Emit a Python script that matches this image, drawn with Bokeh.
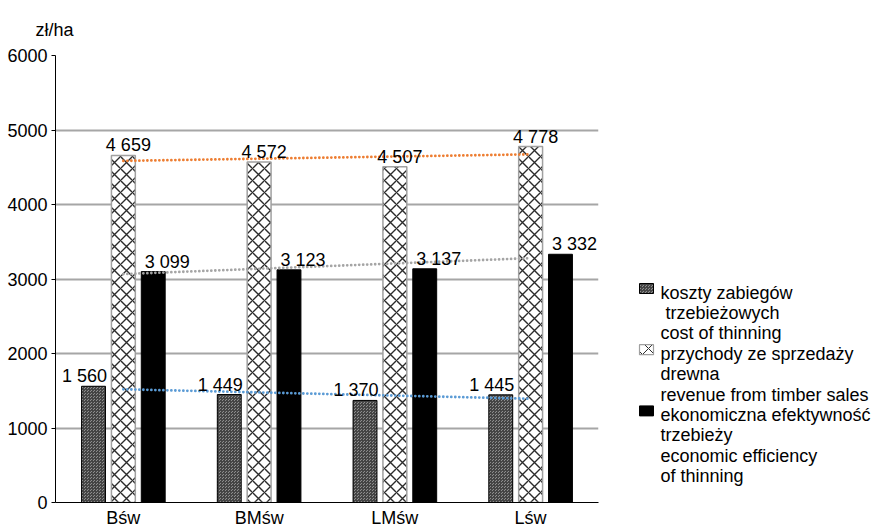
import numpy as np
from bokeh.plotting import figure
from bokeh.models import ColumnDataSource, FactorRange, Range1d, FixedTicker
from bokeh.transform import dodge
from bokeh.layouts import row
from bokeh.core.properties import value
from bokeh.embed import file_html
from bokeh.resources import INLINE

# --- data -------------------------------------------------------------
sites = ["Bśw", "BMśw", "LMśw", "Lśw"]
cost = [1560, 1449, 1370, 1445]           # koszty zabiegów trzebieżowych
revenue = [4659, 4572, 4507, 4778]        # przychody ze sprzedaży drewna
efficiency = [3099, 3123, 3137, 3332]     # ekonomiczna efektywność trzebieży
y_ticks = [0, 1000, 2000, 3000, 4000, 5000, 6000]
unit_label = "zł/ha"
legend_labels = [
    ["koszty zabiegów", "\u00a0trzebieżowych", "cost of thinning"],
    ["przychody ze sprzedaży", "drewna", "revenue from timber sales"],
    ["ekonomiczna efektywność", "trzebieży", "economic efficiency", "of thinning"],
]

FONT = value("Liberation Sans")
FS = "18px"

FRAME_TOP, FRAME_H = 55, 447


def fmt(v):
    return f"{v:,}".replace(",", " ")


src = ColumnDataSource(dict(
    site=sites, cost=cost, revenue=revenue, efficiency=efficiency,
    cost_t=[fmt(v) for v in cost],
    revenue_t=[fmt(v) for v in revenue],
    efficiency_t=[fmt(v) for v in efficiency],
))

# --- main chart -------------------------------------------------------
p = figure(
    x_range=FactorRange(*sites), y_range=Range1d(0, 6000),
    frame_width=543, frame_height=FRAME_H,
    min_border_left=55, min_border_top=FRAME_TOP, min_border_right=2, min_border_bottom=0,
    title=unit_label,
    output_backend="svg", toolbar_location=None,
)
p.outline_line_color = None
p.background_fill_color = "white"

p.title.align = "left"
p.title.vertical_align = "top"
p.title.offset = -20
p.title.standoff = 28
p.title.text_font = "Liberation Sans"
p.title.text_font_size = FS
p.title.text_font_style = "normal"
p.title.text_color = "black"

p.xgrid.grid_line_color = None
p.ygrid.grid_line_color = "#a6a6a6"
p.ygrid.grid_line_width = 2
p.ygrid.ticker = FixedTicker(ticks=y_ticks)

p.yaxis.ticker = FixedTicker(ticks=y_ticks)
p.yaxis.axis_line_color = "black"
p.yaxis.major_tick_line_color = "black"
p.yaxis.major_tick_out = 4
p.yaxis.major_tick_in = 0
p.yaxis.minor_tick_line_color = None
p.yaxis.major_label_standoff = 4
p.yaxis.major_label_text_font = "Liberation Sans"
p.yaxis.major_label_text_font_size = FS
p.yaxis.major_label_text_color = "black"

p.xaxis.axis_line_color = "black"
p.xaxis.major_tick_line_color = None
p.xaxis.major_tick_out = 0
p.xaxis.major_tick_in = 0
p.xaxis.minor_tick_line_color = None
p.xaxis.major_label_standoff = 5
p.xaxis.major_label_text_font = "Liberation Sans"
p.xaxis.major_label_text_font_size = FS
p.xaxis.major_label_text_color = "black"

BW = 0.176
OFF = 0.22

p.vbar(x=dodge("site", -OFF, range=p.x_range), top="cost", width=BW, source=src,
       fill_color="#8e8e8e", line_color="black", line_width=1,
       hatch_pattern="criss_cross", hatch_scale=3, hatch_color="#444444", hatch_weight=1)
p.vbar(x=dodge("site", 0, range=p.x_range), top="revenue", width=BW, source=src,
       fill_color="white", line_color="#a0a0a0", line_width=1.5,
       hatch_pattern="diagonal_cross", hatch_scale=12, hatch_color="#2b2b2b", hatch_weight=1.4)
p.vbar(x=dodge("site", OFF, range=p.x_range), top="efficiency", width=BW, source=src,
       fill_color="black", line_color="black")

# linear trend lines across the category centres
xs = np.arange(len(sites))
for series, color in ((revenue, "#ED7D31"), (efficiency, "#A5A5A5"), (cost, "#5B9BD5")):
    k, b = np.polyfit(xs, series, 1)
    p.line(x=[0.5, len(sites) - 0.5], y=[b, b + k * (len(sites) - 1)],
           line_color=color, line_width=2.8, line_dash="0 4", line_cap="round")

# value labels
for field, off, dx in (("cost", -OFF, -9), ("revenue", 0, 5), ("efficiency", OFF, 14)):
    p.text(x=dodge("site", off, range=p.x_range), y=field, text=field + "_t", source=src,
           x_offset=dx, y_offset=-10, text_align="center", text_baseline="alphabetic",
           text_font=FONT, text_font_size=FS, text_color="black")

# --- legend panel (frame aligned with the chart frame, 1 unit = 1 px) ---
lg = figure(x_range=Range1d(600, 881), y_range=Range1d(FRAME_TOP + FRAME_H, FRAME_TOP),
            frame_width=281, frame_height=FRAME_H,
            min_border=0, min_border_top=FRAME_TOP,
            output_backend="svg", toolbar_location=None)
lg.axis.visible = False
lg.grid.visible = False
lg.outline_line_color = None

line_y0, line_step = 292, 20.4
tx, ty, tt, sy = [], [], [], []
n = 0
for item in legend_labels:
    sy.append(line_y0 + n * line_step - 4)
    for ln in item:
        tx.append(660)
        ty.append(line_y0 + n * line_step)
        tt.append(ln)
        n += 1

lg.rect(x=646, y=sy[0], width=14, height=10, fill_color="#8e8e8e", line_color="black",
        hatch_pattern="criss_cross", hatch_scale=3, hatch_color="#444444", hatch_weight=1)
lg.rect(x=646, y=sy[1], width=14, height=10, fill_color="white", line_color="#a0a0a0",
        line_width=1.2, hatch_pattern="diagonal_cross", hatch_scale=12,
        hatch_color="#2b2b2b", hatch_weight=1)
lg.rect(x=646, y=sy[2], width=14, height=10, fill_color="black", line_color="black")
lg.text(x=tx, y=ty, text=tt, text_align="left", text_baseline="middle",
        text_font=FONT, text_font_size=FS, text_color="black")

layout = row(p, lg, spacing=0)
open("out.html", "w").write(file_html(layout, INLINE))
